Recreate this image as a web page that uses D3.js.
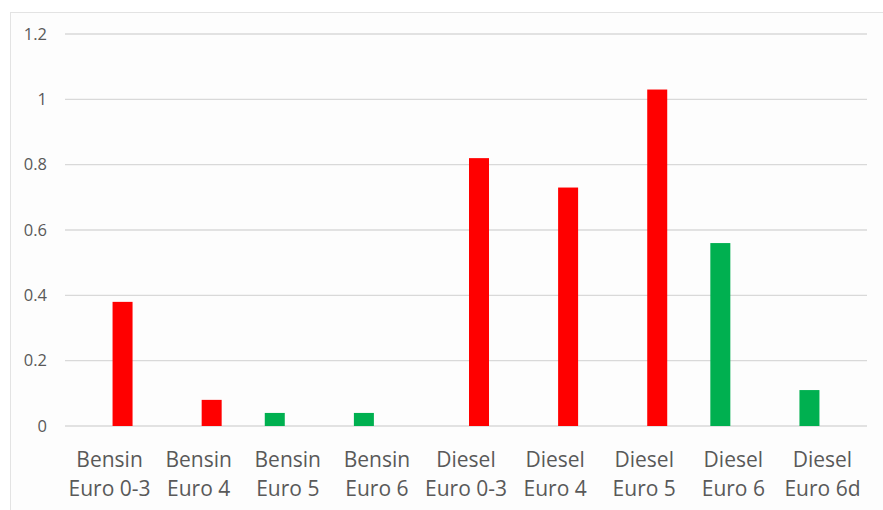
<!DOCTYPE html>
<html>
<head>
<meta charset="utf-8">
<script src="https://cdn.jsdelivr.net/npm/d3@7"></script>
<style>
    body { margin: 0; background: #fff; }
    svg { display: block; }
</style>
</head>
<body>
<svg id="chart" width="883" height="510"></svg>
<script>
// Chart data.
var categories = [
    ["Bensin", "Euro 0-3"],
    ["Bensin", "Euro 4"],
    ["Bensin", "Euro 5"],
    ["Bensin", "Euro 6"],
    ["Diesel", "Euro 0-3"],
    ["Diesel", "Euro 4"],
    ["Diesel", "Euro 5"],
    ["Diesel", "Euro 6"],
    ["Diesel", "Euro 6d"]
];
var seriesNames = ["green", "red"];
var greenValues = [0, 0, 0.04, 0.04, 0, 0, 0, 0.56, 0.11];
var redValues = [0.38, 0.08, 0, 0, 0.82, 0.73, 1.03, 0, 0];
var yTicks = [0, 0.2, 0.4, 0.6, 0.8, 1, 1.2];

createBarChart();

function createBarChart() {

    var svg = d3.select("#chart"),
        margin = {top: 34, right: 16, bottom: 84, left: 65},
        width = +svg.attr("width") - margin.left - margin.right,
        height = +svg.attr("height") - margin.top - margin.bottom;

    var colors = {green: "#00b050", red: "#ff0000"};
    var values = {green: greenValues, red: redValues};

    // Chart area frame.
    svg.append("rect")
        .attr("x", 10.5)
        .attr("y", 12.5)
        .attr("width", 900)
        .attr("height", 600)
        .attr("fill", "#fdfdfd")
        .attr("stroke", "#e3e3e3");

    var labels = categories.map(function (d) { return d.join(" "); });

    var x0 = d3.scaleBand().domain(labels).range([0, width]),
        y = d3.scaleLinear().domain([0, 1.2]).range([height, 0]);

    var c = x0.bandwidth() / 2;
    var x1 = d3.scaleBand().domain(seriesNames).range([c - 23, c + 23]).paddingInner(6 / 26);

    var g = svg.append("g")
        .attr("transform", "translate(" + margin.left + "," + margin.top + ")");

    // Grid lines.
    g.append("g")
        .selectAll("line")
        .data(yTicks)
        .enter().append("line")
        .attr("x1", 0)
        .attr("x2", width)
        .attr("y1", function (d) { return y(d); })
        .attr("y2", function (d) { return y(d); })
        .attr("stroke", "#d9d9d9")
        .attr("stroke-width", 1.3);

    // Y axis.
    var yAxis = g.append("g")
        .call(d3.axisLeft(y).tickValues(yTicks).tickSize(0).tickPadding(18).tickFormat(function (d) { return d3.format("")(d); }));
    yAxis.select(".domain").remove();
    yAxis.selectAll("text")
        .attr("fill", "#595959")
        .style("font-family", "'Open Sans', sans-serif")
        .style("font-size", "16.5px");

    // X axis labels (two lines).
    var xAxis = g.append("g")
        .attr("transform", "translate(0," + height + ")")
        .call(d3.axisBottom(x0).tickSize(0).tickFormat(""));
    xAxis.select(".domain").remove();

    xAxis.selectAll(".tick")
        .append("text")
        .attr("fill", "#595959")
        .attr("text-anchor", "middle")
        .style("font-family", "'Open Sans', sans-serif")
        .style("font-size", "21px")
        .selectAll("tspan")
        .data(function (d, i) { return categories[i]; })
        .enter().append("tspan")
        .attr("x", 0)
        .attr("y", function (d, i) { return 41 + i * 29; })
        .text(function (d) { return d; });

    // Bars.
    var groups = g.selectAll(".cat")
        .data(labels)
        .enter().append("g")
        .attr("class", "cat")
        .attr("transform", function (d) { return "translate(" + x0(d) + ",0)"; });

    groups.selectAll("rect")
        .data(function (d, i) {
            return seriesNames.map(function (s) { return {series: s, value: values[s][i]}; });
        })
        .enter().append("rect")
        .filter(function (d) { return d.value > 0; })
        .attr("x", function (d) { return x1(d.series); })
        .attr("y", function (d) { return y(d.value); })
        .attr("width", x1.bandwidth())
        .attr("height", function (d) { return height - y(d.value); })
        .attr("fill", function (d) { return colors[d.series]; });
}
</script>
</body>
</html>
